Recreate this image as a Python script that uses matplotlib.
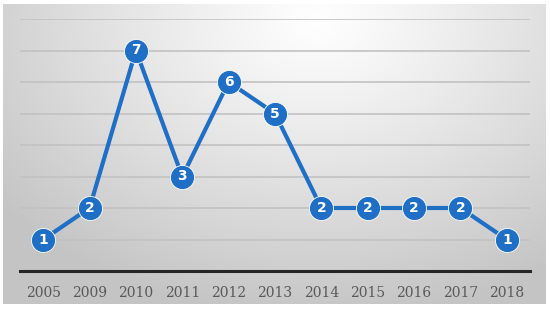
import numpy as np
import matplotlib
matplotlib.use("Agg")
import matplotlib.pyplot as plt

years = ["2005", "2009", "2010", "2011", "2012", "2013", "2014", "2015", "2016", "2017", "2018"]
counts = [1, 2, 7, 3, 6, 5, 2, 2, 2, 2, 1]

W, H = 550, 315
fig = plt.figure(figsize=(W / 100, H / 100), dpi=100)
fig.patch.set_facecolor("white")

# background panel with radial gradient
px0, px1, py0, py1 = 3, 546, 4, 304
bg = fig.add_axes([px0 / W, 1 - py1 / H, (px1 - px0) / W, (py1 - py0) / H])
bg.set_axis_off()
nx, ny = 400, 220
xx, yy = np.meshgrid(np.linspace(0, 1, nx), np.linspace(0, 1, ny))
cx, cy = 0.58, 0.05
r = np.sqrt(((xx - cx) / 0.75) ** 2 + ((yy - cy) / 1.0) ** 2)
r = np.clip(r, 0, 1)
val = 1.0 - 0.23 * r ** 1.1
img = np.dstack([val, val, val])
bg.imshow(img, aspect="auto", extent=[0, 1, 1, 0], interpolation="bilinear")
bg.set_xlim(0, 1)
bg.set_ylim(1, 0)

# main axes
ax0, ax1, ay_top, ay_bot = 20, 530, 19, 271
ax = fig.add_axes([ax0 / W, 1 - ay_bot / H, (ax1 - ax0) / W, (ay_bot - ay_top) / H])
ax.patch.set_alpha(0)
x = np.arange(len(years))
ax.set_xlim(-0.5, len(years) - 0.5)
ax.set_ylim(0, 8)
for yv in range(1, 9):
    ax.axhline(yv, color="#c2c2c2", lw=1.2, zorder=1)
ax.axhline(0, color="#262626", lw=2.2, zorder=2, clip_on=False)

blue = "#1f6fc6"
ax.plot(x, counts, color=blue, lw=3, zorder=3, solid_capstyle="round")
ax.scatter(x, counts, s=300, color=blue, edgecolor="white", linewidth=0.6, zorder=4)
for xi, c in zip(x, counts):
    ax.text(xi, c, str(c), ha="center", va="center", color="white",
            fontsize=10, fontweight="bold", family="DejaVu Sans", zorder=5)

ax.set_xticks(x)
ax.set_xticklabels(years, family="DejaVu Serif", fontsize=10, color="#595959")
ax.tick_params(axis="x", length=0, pad=11)
ax.set_yticks([])
for s in ax.spines.values():
    s.set_visible(False)

fig.savefig("out.png", dpi=100)
